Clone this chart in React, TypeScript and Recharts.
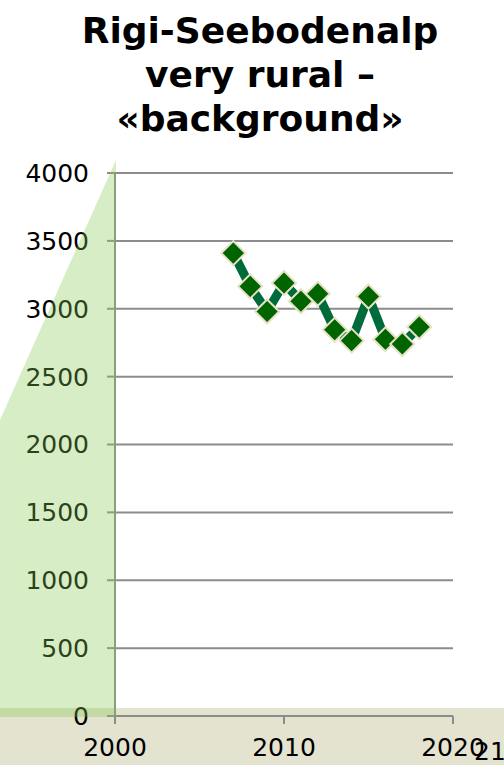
import { LineChart, Line, XAxis, YAxis, CartesianGrid } from 'recharts';

const years = [2007, 2008, 2009, 2010, 2011, 2012, 2013, 2014, 2015, 2016, 2017, 2018];
const values = [3410, 3165, 2980, 3190, 3055, 3110, 2845, 2765, 3090, 2775, 2740, 2865];
const yTicks = [0, 500, 1000, 1500, 2000, 2500, 3000, 3500, 4000];
const xTicks = [2000, 2010, 2020];
const titleLines = ['Rigi-Seebodenalp', 'very rural –', '«background»'];

const data = years.map((year, i) => ({ year, value: values[i] }));

const font = 'DejaVu Sans, Verdana, sans-serif';
const grey = '#8c8c8c';

const Diamond = (props: any) => {
    const { cx, cy, index } = props;
    const r = 12;
    return (
        <polygon
            key={'d' + index}
            points={`${cx},${cy - r} ${cx + r},${cy} ${cx},${cy + r} ${cx - r},${cy}`}
            fill='#006400'
            stroke='#e6e2c6'
            strokeWidth={2}
        />
    );
}

export default function App() {
    return (
        <div style={{ position: 'absolute', left: 0, top: 0, width: 504, height: 765, background: '#fff', overflow: 'hidden' }}>
            <svg width={504} height={765} style={{ position: 'absolute', left: 0, top: 0 }}>
                <rect x={0} y={708} width={504} height={57} fill='#e4e3cf' />
            </svg>
            <div style={{ position: 'absolute', left: 0, top: 0 }}>
                <LineChart
                    width={504}
                    height={765}
                    data={data}
                    margin={{ top: 173, right: 51, bottom: 0, left: 15 }}
                >
                    <CartesianGrid vertical={false} stroke={grey} strokeWidth={2} />
                    <XAxis
                        dataKey='year'
                        type='number'
                        domain={[2000, 2020]}
                        ticks={xTicks}
                        stroke={grey}
                        strokeWidth={2}
                        tickSize={8}
                        tickMargin={14}
                        tick={{ fill: '#000', fontSize: 25, fontFamily: font }}
                        height={49}
                    />
                    <YAxis
                        type='number'
                        domain={[0, 4000]}
                        ticks={yTicks}
                        width={100}
                        stroke={grey}
                        strokeWidth={2}
                        tickSize={8}
                        tickMargin={18}
                        tick={{ fill: '#000', fontSize: 25, fontFamily: font }}
                    />
                    <Line
                        dataKey='value'
                        stroke='#006b3a'
                        strokeWidth={9}
                        dot={Diamond}
                        isAnimationActive={false}
                    />
                </LineChart>
            </div>
            <svg width={504} height={765} style={{ position: 'absolute', left: 0, top: 0, pointerEvents: 'none' }}>
                <polygon points='116,160 0,420 0,717 116,717' fill='rgba(130,200,80,0.33)' />
                <text x={474} y={760} fontSize={25} fontFamily={font} fill='#000'>21</text>
                {titleLines.map((t, i) => (
                    <text key={t} x={260} y={43 + i * 44} textAnchor='middle' fontSize={36} fontWeight='bold' fontFamily={font} fill='#000'>{t}</text>
                ))}
            </svg>
        </div>
    )
}
